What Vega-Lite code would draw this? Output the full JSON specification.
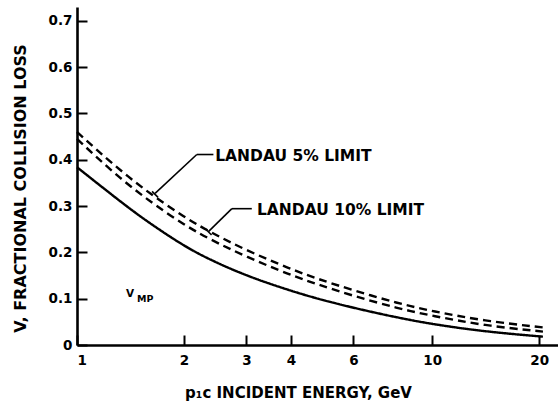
{
  "$schema": "https://vega.github.io/schema/vega-lite/v6.json",
  "autosize": "none",
  "width": 481,
  "height": 338,
  "padding": {"left": 77, "top": 7, "right": 0, "bottom": 63},
  "background": "white",
  "config": {
    "view": {"stroke": null},
    "font": "DejaVu Sans",
    "axis": {
      "domainColor": "black",
      "domainWidth": 2.6,
      "tickColor": "black",
      "tickWidth": 2,
      "tickSize": -10,
      "grid": false,
      "labelColor": "black",
      "labelFont": "DejaVu Sans",
      "labelFontWeight": "bold",
      "labelFontSize": 13.5,
      "titleColor": "black",
      "titleFont": "DejaVu Sans",
      "titleFontWeight": "bold",
      "titleFontSize": 15
    }
  },
  "datasets": {
    "curves": [
      {"E": 1.0, "V": 0.384, "curve": "VMP"},
      {"E": 1.12, "V": 0.354, "curve": "VMP"},
      {"E": 1.27, "V": 0.321, "curve": "VMP"},
      {"E": 1.45, "V": 0.287, "curve": "VMP"},
      {"E": 1.66, "V": 0.255, "curve": "VMP"},
      {"E": 2.0, "V": 0.214, "curve": "VMP"},
      {"E": 2.34, "V": 0.186, "curve": "VMP"},
      {"E": 3.0, "V": 0.149, "curve": "VMP"},
      {"E": 4.0, "V": 0.117, "curve": "VMP"},
      {"E": 4.7, "V": 0.101, "curve": "VMP"},
      {"E": 6.0, "V": 0.080, "curve": "VMP"},
      {"E": 8.0, "V": 0.059, "curve": "VMP"},
      {"E": 10.0, "V": 0.045, "curve": "VMP"},
      {"E": 14.0, "V": 0.029, "curve": "VMP"},
      {"E": 20.5, "V": 0.018, "curve": "VMP"},
      {"E": 1.0, "V": 0.460, "curve": "Landau 5%"},
      {"E": 1.12, "V": 0.426, "curve": "Landau 5%"},
      {"E": 1.27, "V": 0.389, "curve": "Landau 5%"},
      {"E": 1.45, "V": 0.353, "curve": "Landau 5%"},
      {"E": 1.66, "V": 0.319, "curve": "Landau 5%"},
      {"E": 2.0, "V": 0.277, "curve": "Landau 5%"},
      {"E": 2.34, "V": 0.246, "curve": "Landau 5%"},
      {"E": 3.0, "V": 0.204, "curve": "Landau 5%"},
      {"E": 4.0, "V": 0.164, "curve": "Landau 5%"},
      {"E": 4.7, "V": 0.144, "curve": "Landau 5%"},
      {"E": 6.0, "V": 0.118, "curve": "Landau 5%"},
      {"E": 8.0, "V": 0.090, "curve": "Landau 5%"},
      {"E": 10.0, "V": 0.073, "curve": "Landau 5%"},
      {"E": 14.0, "V": 0.052, "curve": "Landau 5%"},
      {"E": 20.5, "V": 0.038, "curve": "Landau 5%"},
      {"E": 1.0, "V": 0.445, "curve": "Landau 10%"},
      {"E": 1.12, "V": 0.410, "curve": "Landau 10%"},
      {"E": 1.27, "V": 0.372, "curve": "Landau 10%"},
      {"E": 1.45, "V": 0.336, "curve": "Landau 10%"},
      {"E": 1.66, "V": 0.302, "curve": "Landau 10%"},
      {"E": 2.0, "V": 0.260, "curve": "Landau 10%"},
      {"E": 2.34, "V": 0.230, "curve": "Landau 10%"},
      {"E": 3.0, "V": 0.190, "curve": "Landau 10%"},
      {"E": 4.0, "V": 0.151, "curve": "Landau 10%"},
      {"E": 4.7, "V": 0.132, "curve": "Landau 10%"},
      {"E": 6.0, "V": 0.106, "curve": "Landau 10%"},
      {"E": 8.0, "V": 0.079, "curve": "Landau 10%"},
      {"E": 10.0, "V": 0.063, "curve": "Landau 10%"},
      {"E": 14.0, "V": 0.042, "curve": "Landau 10%"},
      {"E": 20.5, "V": 0.029, "curve": "Landau 10%"}
    ],
    "leaders": [
      {"E": 2.174, "V": 0.4114, "E2": 2.421, "V2": 0.4114},
      {"E": 2.174, "V": 0.4114, "E2": 1.659, "V2": 0.3274},
      {"E": 1.627, "V": 0.3317, "E2": 1.691, "V2": 0.3188},
      {"E": 2.729, "V": 0.2944, "E2": 3.105, "V2": 0.2944},
      {"E": 2.729, "V": 0.2944, "E2": 2.344, "V2": 0.2450},
      {"E": 2.294, "V": 0.2515, "E2": 2.392, "V2": 0.2375}
    ],
    "notes": [
      {"E": 2.45, "V": 0.397, "text": "LANDAU 5% LIMIT", "kind": "landau"},
      {"E": 3.21, "V": 0.280, "text": "LANDAU 10% LIMIT", "kind": "landau"},
      {"E": 1.374, "V": 0.1034, "text": "V", "kind": "symbol"},
      {"E": 1.476, "V": 0.0926, "text": "MP", "kind": "subscript"}
    ]
  },
  "layer": [
    {
      "data": {"name": "curves"},
      "mark": {"type": "line", "color": "black", "strokeWidth": 2.4, "interpolate": "basis", "clip": false},
      "encoding": {
        "x": {
          "field": "E",
          "type": "quantitative",
          "scale": {"type": "log", "domain": [1, 22.6], "nice": false},
          "axis": {
            "values": [1, 2, 3, 4, 6, 10, 20],
            "format": "~g",
            "labelPadding": 18,
            "title": "p₁c INCIDENT ENERGY, GeV",
            "titleX": 221,
            "titleY": 47,
            "titleBaseline": "middle",
            "titleAlign": "center"
          }
        },
        "y": {
          "field": "V",
          "type": "quantitative",
          "scale": {"domain": [0, 0.73], "nice": false, "zero": true},
          "axis": {
            "values": [0, 0.1, 0.2, 0.3, 0.4, 0.5, 0.6, 0.7],
            "format": "~g",
            "labelPadding": 15,
            "title": "V, FRACTIONAL COLLISION LOSS",
            "titleFontSize": 16,
            "titleX": -57,
            "titleY": 181,
            "titleAngle": 270,
            "titleBaseline": "middle",
            "titleAlign": "center"
          }
        },
        "detail": {"field": "curve"},
        "strokeDash": {
          "field": "curve",
          "type": "nominal",
          "scale": {"domain": ["VMP", "Landau 5%", "Landau 10%"], "range": [[1, 0], [8, 5], [8, 5]]},
          "legend": null
        }
      }
    },
    {
      "data": {"name": "leaders"},
      "mark": {"type": "rule", "color": "black", "strokeWidth": 1.6},
      "encoding": {
        "x": {"field": "E", "type": "quantitative"},
        "y": {"field": "V", "type": "quantitative"},
        "x2": {"field": "E2"},
        "y2": {"field": "V2"}
      }
    },
    {
      "data": {"name": "notes"},
      "transform": [{"filter": "datum.kind == 'landau'"}],
      "mark": {"type": "text", "align": "left", "baseline": "alphabetic", "font": "DejaVu Sans", "fontWeight": "bold", "fontSize": 15.5, "color": "black"},
      "encoding": {
        "x": {"field": "E", "type": "quantitative"},
        "y": {"field": "V", "type": "quantitative"},
        "text": {"field": "text"}
      }
    },
    {
      "data": {"name": "notes"},
      "transform": [{"filter": "datum.kind == 'symbol'"}],
      "mark": {"type": "text", "align": "left", "baseline": "alphabetic", "font": "DejaVu Sans", "fontWeight": "bold", "fontSize": 10.5, "color": "black"},
      "encoding": {
        "x": {"field": "E", "type": "quantitative"},
        "y": {"field": "V", "type": "quantitative"},
        "text": {"field": "text"}
      }
    },
    {
      "data": {"name": "notes"},
      "transform": [{"filter": "datum.kind == 'subscript'"}],
      "mark": {"type": "text", "align": "left", "baseline": "alphabetic", "font": "DejaVu Sans", "fontWeight": "bold", "fontSize": 9.5, "color": "black"},
      "encoding": {
        "x": {"field": "E", "type": "quantitative"},
        "y": {"field": "V", "type": "quantitative"},
        "text": {"field": "text"}
      }
    }
  ]
}
